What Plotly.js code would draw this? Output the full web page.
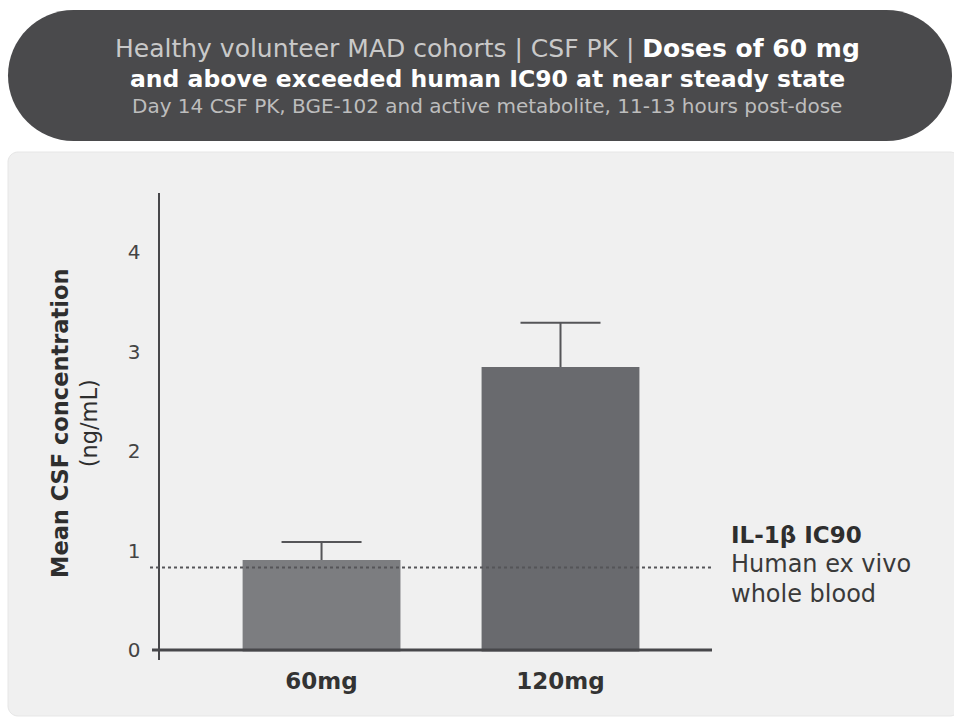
<!DOCTYPE html>
<html>
<head>
<meta charset="utf-8">
<script src="https://cdn.plot.ly/plotly-3.0.1.min.js"></script>
<style>html,body{margin:0;padding:0;background:#fff;}#chart{width:954px;height:719px;}</style>
</head>
<body>
<div id="chart"></div>
<script>
// ---- data ----
const categories = ["60mg", "120mg"];
const meanConc = [0.89, 2.83];
const errUpper = [0.195, 0.46];
const ic90 = 0.83;
const yTicks = [0, 1, 2, 3, 4];
const barColors = ["#7c7d80", "#696a6e"];

// ---- geometry helpers (pixel -> paper) ----
const L = 160, R = 712, T = 193, B = 660;
const W = R - L, H = B - T;
const px = v => (v - L) / W;
const py = v => (B - v) / H;

function pillPath(x0, y0, x1, y1) {
  const r = (y1 - y0) / 2, k = 0.5523 * r;
  const cy = (y0 + y1) / 2;
  const a = x0 + r, b = x1 - r;
  const P = (x, y) => px(x).toFixed(5) + "," + py(y).toFixed(5);
  return "M" + P(a, y0) + " L" + P(b, y0) +
    " C" + P(b + k, y0) + " " + P(x1, cy - k) + " " + P(x1, cy) +
    " C" + P(x1, cy + k) + " " + P(b + k, y1) + " " + P(b, y1) +
    " L" + P(a, y1) +
    " C" + P(a - k, y1) + " " + P(x0, cy + k) + " " + P(x0, cy) +
    " C" + P(x0, cy - k) + " " + P(a - k, y0) + " " + P(a, y0) + " Z";
}
function roundRect(x0, y0, x1, y1, r) {
  const k = 0.5523 * r;
  const P = (x, y) => px(x).toFixed(5) + "," + py(y).toFixed(5);
  return "M" + P(x0 + r, y0) + " L" + P(x1 - r, y0) +
    " C" + P(x1 - r + k, y0) + " " + P(x1, y0 + r - k) + " " + P(x1, y0 + r) +
    " L" + P(x1, y1 - r) +
    " C" + P(x1, y1 - r + k) + " " + P(x1 - r + k, y1) + " " + P(x1 - r, y1) +
    " L" + P(x0 + r, y1) +
    " C" + P(x0 + r - k, y1) + " " + P(x0, y1 - r + k) + " " + P(x0, y1 - r) +
    " L" + P(x0, y0 + r) +
    " C" + P(x0, y0 + r - k) + " " + P(x0 + r - k, y0) + " " + P(x0 + r, y0) + " Z";
}

const FONT = "DejaVu Sans, Open Sans, sans-serif";

// error-bar carrier (drawn first, so the visible bars cover its lower cap)
const errTrace = {
  type: "bar",
  x: categories,
  y: meanConc,
  marker: { color: "rgba(0,0,0,0)", line: { width: 0 } },
  width: 0.655,
  error_y: {
    type: "data",
    symmetric: false,
    array: errUpper,
    arrayminus: [0, 0],
    color: "#555558",
    thickness: 2,
    width: 40
  },
  hoverinfo: "none"
};
const barTrace = {
  type: "bar",
  x: categories,
  y: meanConc,
  marker: { color: barColors, line: { width: 3, color: barColors } },
  width: 0.648,
  hoverinfo: "none"
};

const layout = {
  width: 954,
  height: 719,
  barmode: "overlay",
  margin: { l: L, r: 954 - R, t: T, b: 719 - B, pad: 0 },
  paper_bgcolor: "#ffffff",
  plot_bgcolor: "rgba(0,0,0,0)",
  showlegend: false,
  font: { family: FONT, color: "#333333" },
  xaxis: {
    type: "category",
    range: [-0.676, 1.634],
    showline: false,
    showgrid: false,
    zeroline: false,
    ticks: "",
    tickfont: { family: FONT, size: 23, color: "#333333", weight: "bold" },
    ticklabelstandoff: 5,
    fixedrange: true
  },
  yaxis: {
    range: [-0.1005, 4.593],
    tickvals: yTicks,
    ticktext: yTicks.map(String),
    showline: true,
    linecolor: "#47474a",
    linewidth: 2.5,
    showgrid: false,
    zeroline: false,
    ticks: "",
    ticklabelstandoff: 13,
    tickfont: { family: FONT, size: 20, color: "#444444" },
    fixedrange: true
  },
  shapes: [
    { type: "path", xref: "paper", yref: "paper", layer: "below",
      path: roundRect(8, 152, 960, 716, 10),
      fillcolor: "#f0f0f0", line: { width: 1, color: "#e6e6e6" } },
    { type: "path", xref: "paper", yref: "paper", layer: "below",
      path: pillPath(8, 10, 952, 141),
      fillcolor: "#4a4a4c", line: { width: 0 } },
    { type: "line", xref: "paper", yref: "y", layer: "above",
      x0: px(152), x1: px(712), y0: 0, y1: 0,
      line: { color: "#47474a", width: 3 } },
    { type: "line", xref: "paper", yref: "y", layer: "above",
      x0: px(150), x1: px(713), y0: ic90, y1: ic90,
      line: { color: "#555558", width: 2, dash: "dot" } }
  ],
  annotations: [
    { xref: "paper", yref: "paper", x: px(487), y: py(48), xanchor: "center", yanchor: "middle",
      showarrow: false, font: { family: FONT, size: 25, color: "#c9c9c9" },
      text: "Healthy volunteer MAD cohorts | CSF PK | <b><span style=\"color:#ffffff\">Doses of 60 mg</span></b>" },
    { xref: "paper", yref: "paper", x: px(487), y: py(79), xanchor: "center", yanchor: "middle",
      showarrow: false, font: { family: FONT, size: 23.5, color: "#ffffff" },
      text: "<b>and above exceeded human IC90 at near steady state</b>" },
    { xref: "paper", yref: "paper", x: px(487), y: py(106), xanchor: "center", yanchor: "middle",
      showarrow: false, font: { family: FONT, size: 20, color: "#bdbdbd" },
      text: "Day 14 CSF PK, BGE-102 and active metabolite, 11-13 hours post-dose" },
    { xref: "paper", yref: "paper", x: px(74), y: py(424), xanchor: "center", yanchor: "middle",
      showarrow: false, textangle: -90, font: { family: FONT, size: 22.5, color: "#2e2e2e" },
      text: "<b>Mean CSF concentration</b><br>(ng/mL)" },
    { xref: "paper", yref: "paper", x: px(729), y: py(535), xanchor: "left", yanchor: "middle",
      showarrow: false, font: { family: FONT, size: 23, color: "#2e2e2e" },
      text: "<b>IL-1β IC90</b>" },
    { xref: "paper", yref: "paper", x: px(729), y: py(564), xanchor: "left", yanchor: "middle",
      showarrow: false, font: { family: FONT, size: 24, color: "#3a3a3a" },
      text: "Human ex vivo" },
    { xref: "paper", yref: "paper", x: px(729), y: py(594), xanchor: "left", yanchor: "middle",
      showarrow: false, font: { family: FONT, size: 24, color: "#3a3a3a" },
      text: "whole blood" }
  ]
};

Plotly.newPlot("chart", [errTrace, barTrace], layout, { displayModeBar: false, staticPlot: true });
</script>
</body>
</html>
